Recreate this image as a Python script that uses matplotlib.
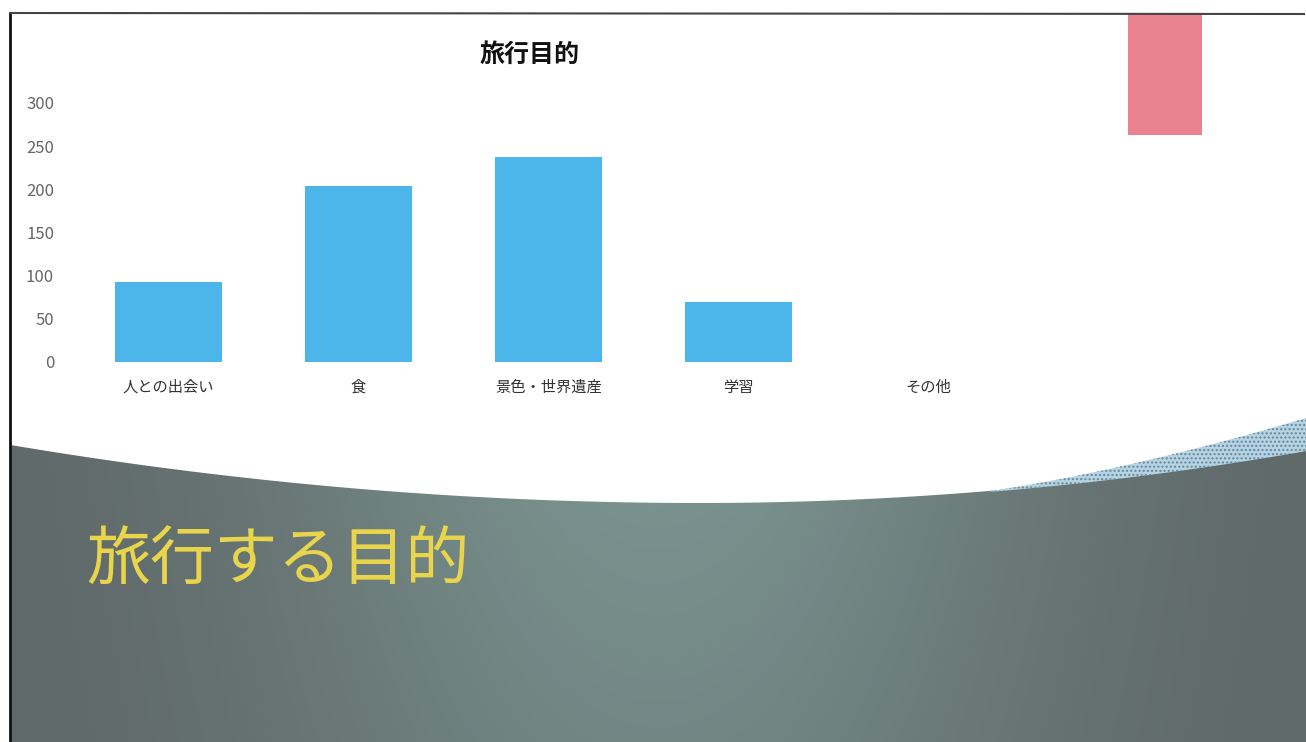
import numpy as np
import matplotlib.pyplot as plt
from matplotlib.patches import Polygon, Rectangle

plt.rcParams['font.family'] = ['Noto Sans CJK JP', 'DejaVu Sans']

categories = ['人との出会い', '食', '景色・世界遺産', '学習', 'その他']
values = [93, 204, 238, 70, 0]
y_ticks = [0, 50, 100, 150, 200, 250, 300]
chart_title = '旅行目的'
slide_title = '旅行する目的'

W, H = 1306, 742
fig = plt.figure(figsize=(W / 100, H / 100), dpi=100)
fig.patch.set_facecolor('white')

# slide background (pixel coords, y down)
bg = fig.add_axes([0, 0, 1, 1], zorder=0)
bg.set_xlim(0, W)
bg.set_ylim(H, 0)
bg.axis('off')

# curved top edge of the dark panel
xs = np.linspace(10, W, 300)
curve = np.where(xs < 700, 503 - 1.22e-4 * (xs - 700) ** 2, 503 - 1.44e-4 * (xs - 700) ** 2)
panel = Polygon(np.vstack([np.column_stack([xs, curve]), [[W, H], [10, H]]]),
                closed=True, facecolor='none', edgecolor='none')
bg.add_patch(panel)

# horizontal gradient: lighter teal in the middle, darker gray at the sides
gx = np.linspace(0, 1, 400)
gy = np.linspace(0, 1, 200)
GX, GY = np.meshgrid(gx, gy)
t = np.exp(-((GX - 0.5) / 0.3) ** 2) * (1 - 0.3 * GY)
edge = np.array([0x5f, 0x67, 0x68]) / 255
mid = np.array([0x7b, 0x95, 0x91]) / 255
img = edge[None, None, :] * (1 - t[..., None]) + mid[None, None, :] * t[..., None]
im = bg.imshow(img, extent=[10, W, H, 440], aspect='auto', zorder=1)
im.set_clip_path(panel)

# light blue dotted band on the right above the panel
bx = np.linspace(990, W, 100)
bcurve = 503 - 1.44e-4 * (bx - 700) ** 2
band_w = 32 * ((bx - 990) / (W - 990)) ** 1.2
band = Polygon(np.vstack([np.column_stack([bx, bcurve - band_w]),
                          np.column_stack([bx[::-1], bcurve[::-1] + 1])]),
               closed=True, facecolor='#b4d4e4', edgecolor='#6a8599', hatch='....',
               linewidth=0, zorder=2)
bg.add_patch(band)

# scan borders
bg.plot([10, 10], [13, H], color='#111111', lw=2, zorder=3)
bg.plot([10, W - 2], [13, 14], color='#444444', lw=1.5, zorder=3)

# pink block at top right
bg.add_patch(Rectangle((1128, 14), 74, 121, facecolor='#e8828f', edgecolor='none', zorder=2))

# slide title
fig.text(86 / W, 1 - 562 / H, slide_title, color='#e9d54c', fontsize=46,
         ha='left', va='center', zorder=5)

# chart
ax = fig.add_axes([73.5 / W, 1 - 362 / H, 950 / W, 259 / H], zorder=2)
ax.patch.set_alpha(0)
x = np.arange(len(categories))
ax.bar(x, values, width=0.56, color='#4cb6ea')
ax.set_xlim(-0.5, len(categories) - 0.5)
ax.set_ylim(0, 300)
ax.set_yticks(y_ticks)
ax.set_yticklabels([str(v) for v in y_ticks], color='#666666', fontsize=12)
ax.set_xticks(x)
ax.set_xticklabels(categories, fontsize=11, color='#333333')
ax.tick_params(axis='y', length=0, pad=14)
ax.tick_params(axis='x', length=0, pad=12)
for s in ax.spines.values():
    s.set_visible(False)

t_obj = fig.text(530 / W, 1 - 55 / H, chart_title, fontsize=18, fontweight='bold',
                 ha='center', va='center', color='#111111')

fig.savefig('out.png', dpi=100)
